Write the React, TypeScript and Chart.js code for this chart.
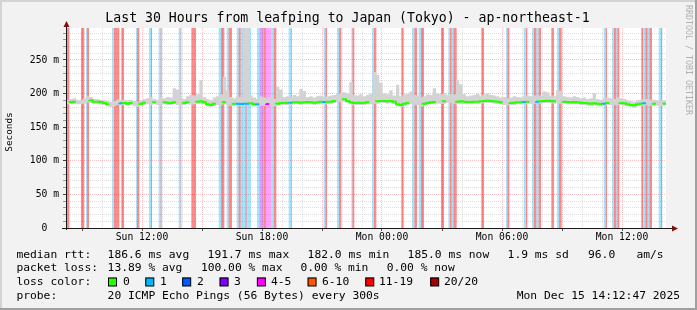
import React, { useEffect, useRef } from 'react';
import { Chart, registerables } from 'chart.js';

Chart.register(...registerables);

const MONO = "'DejaVu Sans Mono', monospace";

// ---- time axis (minutes since Sun 08:12:47, 30 h window) ----
const spanMinutes = 1800;
const firstHourMinute = 48; // Sun 09:00
const xTickMinutes = [228, 588, 948, 1308, 1668];
const xTickLabels = ['Sun 12:00', 'Sun 18:00', 'Mon 00:00', 'Mon 06:00', 'Mon 12:00'];

// ---- value axis (ms) ----
const yMax = 297.6;
const yTickValues = [0, 50, 100, 150, 200, 250];
const yTickLabels = ['0  ', '50 m', '100 m', '150 m', '200 m', '250 m'];

// ---- one value per 10 minutes ----
const step = 10;
const medianRtt = [
  187.5, 187, 187.5, 188, 187, 186.5, 188, 191, 190, 188,
  188, 187.5, 186, 184, 183, 184, 186, 185.5, 186, 185,
  186, 184, 183, 185, 186.5, 187, 186.5, 187, 186, 187,
  187, 186.5, 186, 187, 186, 185.5, 186, 187, 186.5, 187,
  188, 188.5, 187, 184, 183, 185, 186, 186, 187, 186.5,
  185.5, 185, 185, 184.5, 185, 185, 185.5, 184.5, 184, 185,
  185, 184.5, 185, 184, 185, 186, 186.5, 186, 186.5, 187,
  187, 186.5, 187, 187.5, 187, 186.5, 187, 188, 187.5, 188,
  188, 189, 190, 191, 191.5, 189, 187, 186, 186.5, 186,
  186.5, 187, 187.5, 188, 188.5, 189, 189, 188.5, 189, 188,
  184, 183, 185, 186, 187, 186.5, 186, 183.5, 185, 186,
  187, 187.5, 188, 188, 188.5, 189, 189, 188.5, 188, 188.5,
  188, 187.5, 187.5, 188, 188, 188.5, 189, 189.5, 189, 188.5,
  188, 187, 186.5, 186.5, 186, 186.5, 187, 187, 187.5, 188,
  188, 188.5, 188, 188.5, 189, 189.5, 189, 188.5, 189, 188.5,
  188, 187.5, 187, 187.5, 187, 186.5, 186, 185.5, 185, 185.5,
  185, 184.5, 185, 186, 186.5, 186, 186.5, 186, 185.5, 184,
  183, 182.5, 184, 185, 185.5, 186, 185.5, 185, 185, 185,
];

// smoke: lowest and highest ping per step
const smokeLo = [
  185, 184, 185, 185, 184, 184, 185, 187, 186, 185,
  185, 184, 183, 181, 180, 181, 183, 182, 183, 182,
  183, 181, 180, 182, 183, 184, 183, 184, 183, 184,
  184, 183, 183, 184, 183, 182, 183, 184, 183, 184,
  185, 185, 184, 181, 180, 182, 183, 183, 184, 183,
  182, 182, 182, 181, 182, 182, 182, 181, 181, 182,
  182, 181, 182, 181, 182, 183, 183, 183, 183, 184,
  184, 183, 184, 184, 184, 183, 184, 185, 184, 185,
  185, 186, 187, 188, 188, 186, 184, 183, 183, 183,
  183, 184, 184, 185, 185, 186, 186, 185, 186, 185,
  181, 180, 182, 183, 184, 183, 183, 180, 182, 183,
  184, 184, 185, 185, 185, 186, 186, 185, 185, 185,
  185, 184, 184, 185, 185, 185, 186, 186, 186, 185,
  185, 184, 183, 183, 183, 183, 184, 184, 184, 185,
  185, 185, 185, 185, 186, 186, 186, 185, 186, 185,
  185, 184, 184, 184, 184, 183, 183, 182, 182, 182,
  182, 181, 182, 183, 183, 183, 183, 183, 182, 181,
  180, 179, 181, 182, 182, 183, 182, 182, 182, 182,
];
const smokeHi = [
  191, 190, 192, 193, 191, 190, 193, 196, 195, 192,
  192, 191, 190, 189, 188, 189, 191, 190, 191, 190,
  191, 189, 188, 190, 192, 193, 195, 192, 191, 194,
  193, 195, 194, 208, 206, 193, 192, 196, 198, 197,
  199, 220, 195, 192, 190, 194, 196, 199, 225, 205,
  195, 193, 196, 194, 299, 299, 197, 194, 192, 196,
  194, 193, 195, 192, 210, 206, 195, 196, 194, 198,
  196, 207, 204, 195, 196, 194, 196, 197, 195, 196,
  197, 198, 199, 201, 202, 200, 217, 198, 197, 199,
  196, 198, 200, 232, 228, 216, 200, 199, 205, 197,
  213, 196, 199, 200, 203, 198, 197, 195, 196, 199,
  198, 208, 200, 199, 201, 198, 200, 199, 220, 214,
  199, 196, 197, 198, 200, 197, 199, 201, 198, 197,
  196, 194, 195, 193, 194, 196, 195, 194, 196, 197,
  196, 197, 196, 197, 203, 202, 197, 196, 205, 204,
  196, 195, 194, 196, 195, 193, 194, 192, 193, 201,
  192, 191, 193, 194, 193, 192, 194, 193, 192, 190,
  189, 188, 190, 191, 192, 192, 191, 191, 190, 190,
];

// ---- loss periods: start / end minute and lost pings (of 20) ----
const lossStart = [
  0, 45, 60, 63, 138, 144, 165, 167, 210, 213, 249, 255, 278, 284, 338, 344, 376,
  458, 465, 482, 488, 512, 518, 524, 538, 542, 573, 580, 593, 600, 615, 623,
  668, 676, 773, 778, 813, 819, 856, 859, 918, 924, 1006, 1038, 1045, 1058, 1065,
  1125, 1147, 1152, 1157, 1162, 1246, 1320, 1324, 1373, 1380, 1398, 1404, 1411, 1418,
  1456, 1473, 1479, 1613, 1619, 1638, 1644, 1651, 1654, 1726, 1731, 1738, 1745, 1750,
  1778, 1785,
];
const lossEnd = [
  10, 55, 63, 69, 144, 160, 167, 174, 213, 220, 255, 258, 284, 287, 344, 346, 390,
  465, 475, 488, 498, 518, 524, 538, 542, 555, 580, 593, 600, 615, 623, 631,
  676, 678, 778, 783, 819, 826, 859, 865, 924, 931, 1013, 1045, 1053, 1065, 1074,
  1134, 1152, 1157, 1162, 1172, 1254, 1324, 1330, 1380, 1384, 1404, 1411, 1418, 1425,
  1464, 1479, 1487, 1619, 1623, 1644, 1651, 1654, 1660, 1731, 1738, 1745, 1750, 1758,
  1785, 1788,
];
const lossLevel = [
  20, 20, 1, 20, 1, 20, 1, 20, 1, 20, 1, 20, 1, 20, 1, 20, 20,
  1, 20, 1, 20, 1, 20, 1, 20, 1, 1, 3, 20, 5, 1, 20,
  1, 20, 1, 20, 1, 20, 1, 20, 1, 20, 20, 1, 20, 1, 20,
  20, 1, 20, 1, 20, 20, 1, 20, 1, 20, 1, 20, 1, 20,
  20, 1, 20, 1, 20, 1, 20, 1, 20, 20, 1, 20, 1, 20,
  1, 20,
];

// ---- legend ----
const TITLE = 'Last 30 Hours from leafping to Japan (Tokyo) - ap-northeast-1';
const rttValues = [186.6, 191.7, 182.0, 185.0];
const rttNames = ['avg', 'max', 'min', 'now'];
const rttSd = 1.9;
const rttAms = 96.0;
const lossValues = [13.89, 100.0, 0.0, 0.0];
const lossNames = ['avg', 'max', 'min', 'now'];
const lossColorLabels = ['0', '1', '2', '3', '4-5', '6-10', '11-19', '20/20'];
const lossColors = ['#26ff00', '#00b8ff', '#0059ff', '#7e00ff', '#ff00ff', '#ff5500', '#ff0000', '#a10000'];
const probeText = '20 ICMP Echo Pings (56 Bytes) every 300s';
const stampText = 'Mon Dec 15 14:12:47 2025';

// layout positions of legend items
const rttX = [107.6, 207.6, 307.6, 407.6, 507.6, 588, 636.4];
const lossX = [107.6, 200.9, 300.4, 386.7];
const boxX = [108, 145.3, 182.2, 219.6, 256.9, 307.6, 365.3, 430.2];
const boxLabelX = [123, 160, 197, 234, 271, 322, 379, 444];
const rowY = [255, 268, 282, 296];

const barFill: Record<number, string> = {
  1: 'rgba(0,184,255,0.36)',
  3: 'rgba(126,0,255,0.36)',
  5: 'rgba(255,0,255,0.36)',
  20: 'rgba(255,0,0,0.46)',
};
const lineColorFor: Record<number, string> = { 1: '#00b8ff', 3: '#7e00ff', 5: '#ff00ff' };

function levelAt(m: number): number {
  for (let i = 0; i < lossStart.length; i++) {
    if (m >= lossStart[i] && m < lossEnd[i]) return lossLevel[i];
  }
  return 0;
}

const hourTicks: number[] = [];
for (let m = firstHourMinute; m < spanMinutes; m += 60) hourTicks.push(m);
const yMinorTicks: number[] = [];
for (let v = 0; v < yMax; v += 10) yMinorTicks.push(v);

const GRID_MINOR = 'rgba(170,170,170,0.38)';
const GRID_MAJOR = 'rgba(230,120,120,0.45)';

const framePlugin = {
  id: 'smokeFrame',
  beforeDraw(chart: any) {
    const { ctx, chartArea: a, width, height } = chart;
    ctx.save();
    ctx.fillStyle = '#f2f2f2';
    ctx.fillRect(0, 0, width, height);
    ctx.fillStyle = '#d4d4d4';
    ctx.fillRect(0, 0, width, 2);
    ctx.fillRect(0, 0, 2, height);
    ctx.fillStyle = '#a0a0a0';
    ctx.fillRect(0, height - 2, width, 2);
    ctx.fillRect(width - 2, 0, 2, height);
    ctx.fillStyle = '#ffffff';
    ctx.fillRect(a.left, a.top, a.right - a.left, a.bottom - a.top);
    ctx.restore();
  },
  beforeDatasetsDraw(chart: any) {
    const { ctx, chartArea: a } = chart;
    const xs = chart.scales.x;
    ctx.save();
    for (let i = 0; i < lossStart.length; i++) {
      const x0 = xs.getPixelForValue(lossStart[i]);
      const x1 = xs.getPixelForValue(lossEnd[i]);
      ctx.fillStyle = barFill[lossLevel[i]];
      ctx.fillRect(x0, a.top, x1 - x0, a.bottom - a.top);
    }
    ctx.restore();
  },
  afterDraw(chart: any) {
    const { ctx, chartArea: a } = chart;
    ctx.save();
    // axes
    ctx.strokeStyle = '#1a1a1a';
    ctx.lineWidth = 1;
    ctx.beginPath();
    ctx.moveTo(a.left + 0.5, a.bottom + 2);
    ctx.lineTo(a.left + 0.5, 23);
    ctx.moveTo(a.left - 4, a.bottom + 0.5);
    ctx.lineTo(a.right + 6, a.bottom + 0.5);
    ctx.stroke();
    ctx.fillStyle = '#801010';
    ctx.beginPath();
    ctx.moveTo(a.left - 2.5, 27);
    ctx.lineTo(a.left + 3.5, 27);
    ctx.lineTo(a.left + 0.5, 21);
    ctx.closePath();
    ctx.fill();
    ctx.beginPath();
    ctx.moveTo(a.right + 6, a.bottom - 2.5);
    ctx.lineTo(a.right + 6, a.bottom + 3.5);
    ctx.lineTo(a.right + 12, a.bottom + 0.5);
    ctx.closePath();
    ctx.fill();

    // title
    ctx.fillStyle = '#000';
    ctx.textBaseline = 'middle';
    ctx.textAlign = 'center';
    ctx.font = `13.2px ${MONO}`;
    ctx.fillText(TITLE, 347.5, 19);

    // vertical texts
    ctx.save();
    ctx.translate(10, 132);
    ctx.rotate(-Math.PI / 2);
    ctx.font = `9.4px ${MONO}`;
    ctx.fillText('Seconds', 0, 0);
    ctx.restore();
    ctx.save();
    ctx.translate(688, 5);
    ctx.rotate(Math.PI / 2);
    ctx.textAlign = 'left';
    ctx.fillStyle = '#b0b0b0';
    ctx.font = `8.3px ${MONO}`;
    ctx.fillText('RRDTOOL / TOBI OETIKER', 0, 0);
    ctx.restore();

    // legend
    ctx.textAlign = 'left';
    ctx.font = `11.3px ${MONO}`;
    ctx.fillStyle = '#000';
    ctx.fillText('median rtt:', 16.4, rowY[0]);
    rttValues.forEach((v, i) => ctx.fillText(`${v.toFixed(1)} ms ${rttNames[i]}`, rttX[i], rowY[0]));
    ctx.fillText(`${rttSd.toFixed(1)} ms sd`, rttX[4], rowY[0]);
    ctx.fillText(rttAms.toFixed(1), rttX[5], rowY[0]);
    ctx.fillText('am/s', rttX[6], rowY[0]);

    ctx.fillText('packet loss:', 16.4, rowY[1]);
    lossValues.forEach((v, i) => ctx.fillText(`${v.toFixed(2)} % ${lossNames[i]}`, lossX[i], rowY[1]));

    ctx.fillText('loss color:', 16.4, rowY[2]);
    lossColorLabels.forEach((lab, i) => {
      ctx.fillStyle = lossColors[i];
      ctx.fillRect(boxX[i], rowY[2] - 4.5, 8.5, 8.5);
      ctx.strokeStyle = '#000';
      ctx.lineWidth = 1;
      ctx.strokeRect(boxX[i] + 0.5, rowY[2] - 4.5 + 0.5, 8, 8);
      ctx.fillStyle = '#000';
      ctx.fillText(lab, boxLabelX[i], rowY[2]);
    });

    ctx.fillText('probe:', 16.4, rowY[3]);
    ctx.fillText(probeText, 107.6, rowY[3]);
    ctx.textAlign = 'right';
    ctx.fillText(stampText, 680, rowY[3]);
    ctx.restore();
  },
};

export default function App() {
  const ref = useRef<HTMLCanvasElement | null>(null);

  useEffect(() => {
    if (!ref.current) return;
    const last = medianRtt.length - 1;
    const medianPts: any[] = medianRtt.map((v, i) => {
      const m = i * step;
      return { x: m, y: levelAt(m + step / 2) === 20 ? null : v };
    });
    medianPts.push({ x: spanMinutes, y: medianRtt[last] });
    const loPts = smokeLo.map((v, i) => ({ x: i * step, y: v }));
    loPts.push({ x: spanMinutes, y: smokeLo[last] });
    const hiPts = smokeHi.map((v, i) => ({ x: i * step, y: v }));
    hiPts.push({ x: spanMinutes, y: smokeHi[last] });

    const chart = new Chart(ref.current, {
      type: 'line',
      data: {
        datasets: [
          {
            data: medianPts,
            borderColor: '#26ff00',
            borderWidth: 2,
            pointRadius: 0,
            stepped: 'after',
            fill: false,
            order: 0,
            segment: {
              borderColor: (c: any) => {
                const lvl = levelAt(c.p0.parsed.x + step / 2);
                return lineColorFor[lvl] || '#26ff00';
              },
            },
          } as any,
          {
            data: loPts,
            borderColor: 'rgba(0,0,0,0)',
            borderWidth: 1,
            pointRadius: 0,
            stepped: 'after',
            fill: false,
            order: 1,
          } as any,
          {
            data: hiPts,
            borderColor: 'rgba(0,0,0,0)',
            borderWidth: 1,
            pointRadius: 0,
            stepped: 'after',
            fill: '-1',
            backgroundColor: '#d3d3d3',
            order: 1,
          } as any,
        ],
      },
      options: {
        responsive: false,
        animation: false,
        devicePixelRatio: 1,
        events: [],
        layout: { padding: { left: 0, top: 28, right: 31, bottom: 0 } },
        plugins: {
          legend: { display: false },
          tooltip: { enabled: false },
          title: { display: false },
        },
        scales: {
          x: {
            type: 'linear',
            min: 0,
            max: spanMinutes,
            afterBuildTicks: (s: any) => {
              s.ticks = hourTicks.map((v) => ({ value: v }));
            },
            afterFit: (s: any) => {
              s.height = 82;
            },
            ticks: {
              autoSkip: false,
              maxRotation: 0,
              minRotation: 0,
              padding: 1,
              color: '#000',
              font: { family: MONO, size: 9.7 },
              callback: (v: any) => {
                const k = xTickMinutes.indexOf(Number(v));
                return k >= 0 ? xTickLabels[k] : '';
              },
            },
            grid: {
              color: (c: any) => ((c.tick.value - firstHourMinute) % 180 === 0 ? GRID_MAJOR : GRID_MINOR),
              lineWidth: 1,
              drawTicks: true,
              tickLength: 3,
              tickColor: (c: any) => ((c.tick.value - firstHourMinute) % 180 === 0 ? '#555' : 'rgba(0,0,0,0)'),
            },
            border: { display: false, dash: [1, 1] },
          },
          y: {
            type: 'linear',
            min: 0,
            max: yMax,
            afterBuildTicks: (s: any) => {
              s.ticks = yMinorTicks.map((v) => ({ value: v }));
            },
            afterFit: (s: any) => {
              s.width = 66;
            },
            ticks: {
              autoSkip: false,
              padding: 4,
              color: '#000',
              font: { family: MONO, size: 9.7 },
              callback: (v: any) => {
                const k = yTickValues.indexOf(Number(v));
                return k >= 0 ? yTickLabels[k] : '';
              },
            },
            grid: {
              color: (c: any) => (c.tick.value === 0 ? 'rgba(0,0,0,0)' : c.tick.value % 50 === 0 ? GRID_MAJOR : GRID_MINOR),
              lineWidth: 1,
              drawTicks: true,
              tickLength: 3,
              tickColor: (c: any) => (c.tick.value % 50 === 0 ? '#444' : '#999'),
            },
            border: { display: false, dash: [1, 1] },
          },
        },
      } as any,
      plugins: [framePlugin],
    });
    return () => chart.destroy();
  }, []);

  return (
    <div style={{ position: 'fixed', left: 0, top: 0, width: 697, height: 310 }}>
      <canvas ref={ref} width={697} height={310} style={{ display: 'block', width: 697, height: 310 }} />
    </div>
  );
}
